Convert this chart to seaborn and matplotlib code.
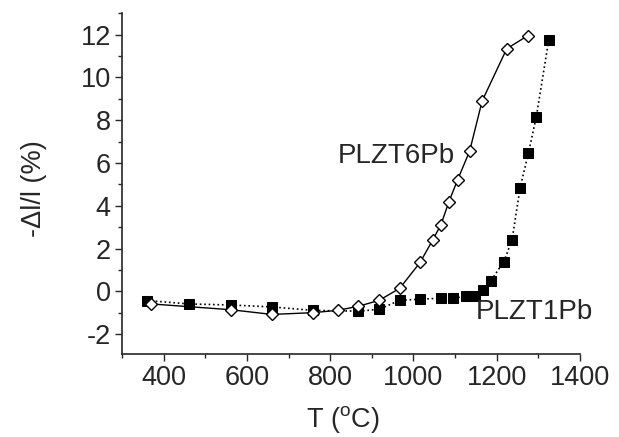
import numpy as np
import matplotlib
matplotlib.use("Agg")
import matplotlib.pyplot as plt
import seaborn as sns

# PLZT6Pb (open diamonds, solid line)
t_6pb = [370, 561, 660, 758, 818, 868, 918, 967, 1016, 1046, 1066, 1085, 1106, 1135, 1165, 1224, 1275]
d_6pb = [-0.59, -0.86, -1.08, -1.0, -0.89, -0.70, -0.42, 0.14, 1.35, 2.39, 3.11, 4.18, 5.21, 6.56, 8.9, 11.34, 11.96]

# PLZT1Pb (filled squares, dotted line)
t_1pb = [360, 460, 561, 660, 758, 868, 918, 967, 1016, 1067, 1096, 1127, 1147, 1166, 1186, 1217, 1237, 1256, 1276, 1295, 1325]
d_1pb = [-0.43, -0.59, -0.64, -0.73, -0.89, -0.93, -0.84, -0.42, -0.37, -0.32, -0.32, -0.23, -0.23, 0.04, 0.50, 1.38, 2.42, 4.82, 6.46, 8.15, 11.76]

x_ticks = [400, 600, 800, 1000, 1200, 1400]
y_ticks = [-2, 0, 2, 4, 6, 8, 10, 12]

sns.set_style("ticks")
plt.rcParams['font.family'] = ['Liberation Sans', 'DejaVu Sans']
plt.rcParams['mathtext.fontset'] = 'custom'
plt.rcParams['mathtext.rm'] = 'Liberation Sans'
plt.rcParams['axes.unicode_minus'] = False

fs = 19.5

fig = plt.figure(figsize=(6.19, 4.37), dpi=100)
ax = fig.add_axes([0.197, 0.19, 0.74, 0.7796])

sns.lineplot(x=t_1pb, y=d_1pb, ax=ax, color='black', linestyle=':', linewidth=1.2,
             marker='s', markersize=6.5, markerfacecolor='black', markeredgecolor='black')
sns.lineplot(x=t_6pb, y=d_6pb, ax=ax, color='black', linestyle='-', linewidth=1.0,
             marker='D', markersize=6, markerfacecolor='white', markeredgecolor='black',
             markeredgewidth=1.0)

ax.set_xlim(300, 1400)
ax.set_ylim(-2.93, 12.93)
ax.set_xticks(x_ticks)
ax.set_yticks(y_ticks)
ax.set_xticks(np.arange(300, 1401, 100), minor=True)
ax.set_yticks(np.arange(-2, 13.1, 1), minor=True)
ax.tick_params(axis='both', which='major', direction='out', length=5, width=1,
               labelsize=fs, pad=3)
ax.tick_params(axis='both', which='minor', direction='out', length=3, width=1)
sns.despine(ax=ax)
for s in ['left', 'bottom']:
    ax.spines[s].set_linewidth(1.2)

ax.set_xlabel(r'T ($^{\mathrm{o}}$C)', fontsize=fs, labelpad=9)
ax.set_ylabel('-\u0394l/l (%)', fontsize=fs, labelpad=24)
ax.xaxis.label.set_x(0.483)
ax.yaxis.label.set_y(0.484)

ax.text(1099, 6.34, 'PLZT6Pb', fontsize=20, ha='right', va='center')
ax.text(1149, -0.97, 'PLZT1Pb', fontsize=20, ha='left', va='center')

fig.savefig('out.png', dpi=100)
